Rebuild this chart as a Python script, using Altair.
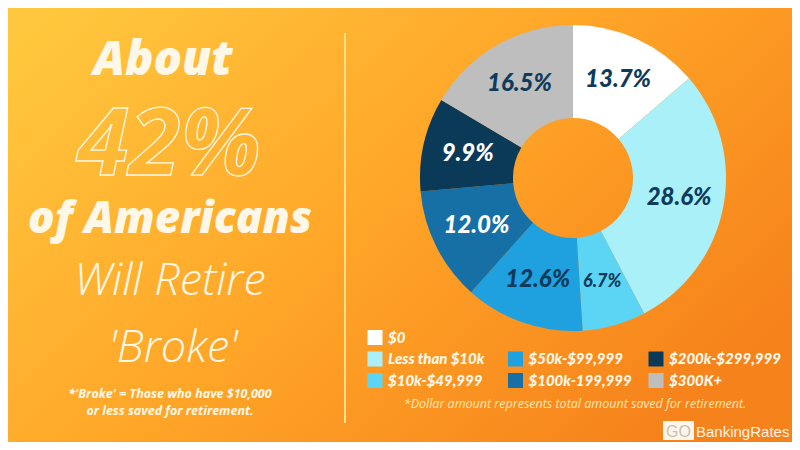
import altair as alt
import pandas as pd

# ---- data ----
categories = ["$0", "Less than $10k", "$10k-$49,999", "$50k-$99,999",
              "$100k-199,999", "$200k-$299,999", "$300K+"]
shares = [13.7, 28.6, 6.7, 12.6, 12.0, 9.9, 16.5]
slice_colors = ["#FFFFFF", "#A9F0F9", "#5CD5F4", "#1FA0DF", "#1770A5", "#0B3A58", "#BEBEBE"]
dark_slices = ["$100k-199,999", "$200k-$299,999"]

W, H = 784, 434
CX, CY = 565, 170
CREAM = "#FFF8E8"
NAVY = "#0E3A5C"
FONT = "Lato"
HEAD = "Open Sans"

df = pd.DataFrame({
    "cat": categories,
    "pct": shares,
    "ord": list(range(len(categories))),
})
df["label"] = [f"{v:.1f}%" for v in shares]

# legend grid slots: first column holds 3 items, the others 2 (rows 1-2)
cols, rows = [], []
for i in range(len(categories)):
    if i < 3:
        cols.append(0); rows.append(i)
    else:
        cols.append((i - 3) // 2 + 1); rows.append((i - 3) % 2 + 1)
leg = pd.DataFrame({"cat": categories, "col": cols, "row": rows})

color_scale = alt.Scale(domain=categories, range=slice_colors)
one = pd.DataFrame({"a": [0]})

# ---- background ----
bg = alt.Chart(one).mark_rect(
    color=alt.Gradient(
        gradient="linear",
        stops=[alt.GradientStop(color="#FFC73D", offset=0),
               alt.GradientStop(color="#FFA628", offset=0.5),
               alt.GradientStop(color="#F6821B", offset=1)],
        x1=0, y1=0.1, x2=1, y2=0.7)
).encode(x=alt.value(0), x2=alt.value(W), y=alt.value(0), y2=alt.value(H))

divider = alt.Chart(one).mark_rule(color="#FFE08A", strokeWidth=2).encode(
    x=alt.value(337), y=alt.value(25), y2=alt.value(415))


def txt(text, x, y, size, weight="bold", style="italic", color=CREAM, align="center",
        font=HEAD, **kw):
    return alt.Chart(pd.DataFrame({"t": [text]})).mark_text(
        font=font, fontSize=size, fontWeight=weight, fontStyle=style,
        align=align, baseline="alphabetic", color=color, **kw
    ).encode(text="t:N", x=alt.value(x), y=alt.value(y))


about = txt("About", 155, 67, 47, weight=800)
pct42 = alt.Chart(pd.DataFrame({"t": ["42%"]})).mark_text(
    font=HEAD, fontSize=94, fontWeight="bold", fontStyle="italic",
    align="center", baseline="alphabetic", fill="transparent",
    stroke=CREAM, strokeWidth=1.3
).encode(text="t:N", x=alt.value(161), y=alt.value(167))
americans = txt("of Americans", 162, 225, 44, weight=800)
retire = txt("Will Retire", 162, 287, 45, weight=300)
broke = txt("'Broke'", 165, 354, 45, weight=300)
foot1 = txt("*'Broke' = Those who have $10,000", 162, 390, 12.5)
foot2 = txt("or less saved for retirement.", 162, 407, 12.5)

# ---- donut ----
base = alt.Chart(df).encode(
    theta=alt.Theta("pct:Q", stack=True),
    order=alt.Order("ord:Q"),
    x=alt.value(CX), y=alt.value(CY),
)
arcs = base.mark_arc(radius=153, radius2=60).encode(
    color=alt.Color("cat:N", scale=color_scale, legend=None)
)
labels = base.mark_text(radius=108, font=FONT, fontWeight=900, fontStyle="italic").encode(
    text="label:N",
    color=alt.condition(alt.FieldOneOfPredicate(field="cat", oneOf=dark_slices),
                        alt.value("#FFFFFF"), alt.value(NAVY)),
    size=alt.condition("datum.pct < 8", alt.value(18), alt.value(24)),
)

# ---- legend ----
lx = alt.X("col:Q", scale=alt.Scale(domain=[0, 2], range=[367, 648]), axis=None)
ly = alt.Y("row:Q", scale=alt.Scale(domain=[0, 2], range=[329.5, 372.5]), axis=None)
leg_sq = alt.Chart(leg).mark_square(size=225, opacity=1, filled=True).encode(
    x=lx, y=ly, color=alt.Color("cat:N", scale=color_scale, legend=None))
leg_tx = alt.Chart(leg).mark_text(
    align="left", baseline="middle", dx=13, font=FONT, fontSize=15,
    fontWeight=900, fontStyle="italic", color=CREAM
).encode(x=lx, y=ly, text="cat:N")

note = txt("*Dollar amount represents total amount saved for retirement.", 567, 400, 12.5,
           weight="normal", color="#FFE6B0")

# ---- logo ----
go_box = alt.Chart(one).mark_rect(color="#FFF6EC").encode(
    x=alt.value(655), x2=alt.value(686), y=alt.value(413), y2=alt.value(432))
go_tx = txt("GO", 670.5, 429, 16, weight="normal", style="normal", color="#C9BFB3",
            font="Liberation Sans")
brand = txt("BankingRates", 688, 429, 15, weight="normal", style="normal",
            color="#FFF3E6", align="left", font="Liberation Sans")

chart = alt.layer(
    bg, divider, about, pct42, americans, retire, broke, foot1, foot2,
    arcs, labels, leg_sq, leg_tx, note, go_box, go_tx, brand
).properties(
    width=W, height=H, padding=0,
    autosize=alt.AutoSizeParams(type="fit", contains="padding"),
).configure_view(strokeWidth=0).configure(background="#FFA628")

chart.save("out.html", embed_options={"renderer": "svg", "actions": False})
